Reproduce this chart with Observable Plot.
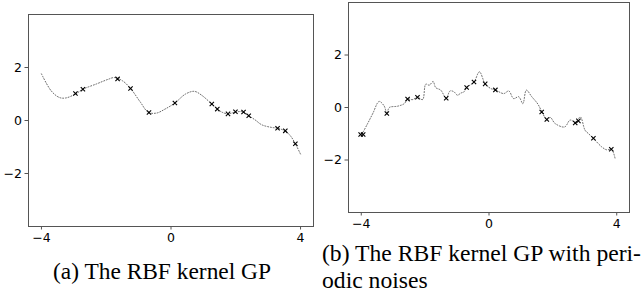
<!DOCTYPE html>
<html>
<head>
<meta charset="utf-8">
<script src="https://cdn.jsdelivr.net/npm/d3@7"></script>
<script src="https://cdn.jsdelivr.net/npm/@observablehq/plot@0.6"></script>
<style>
  html, body { margin: 0; padding: 0; background: #fff; }
  #page { position: relative; width: 643px; height: 293px; overflow: hidden; background: #fff; }
  .panel { position: absolute; top: 0; }
  .cap { position: absolute; font-family: 'Liberation Serif'; font-size: 23.5px; line-height: 28.4px; color: #000; white-space: nowrap; transform-origin: 0 0; }
</style>
</head>
<body>
<div id="page">
  <div id="left" class="panel" style="left:0px"></div>
  <div id="right" class="panel" style="left:320px"></div>
  <div class="cap" data-w="218" style="left:52.5px; top:257.2px;">(a) The RBF kernel GP</div>
  <div class="cap" data-w="319" style="left:321.7px; top:239.2px;">(b) The RBF kernel GP with peri-</div>
  <div class="cap" data-ref="1" style="left:321.7px; top:268.6px; line-height:23.5px;">odic noises</div>
</div>
<script>
// ---- tick labels ----
const xTicks = [-4, 0, 4];
const yTicks = [-2, 0, 2];

// ---- panel (a): GP mean curve ----
const aCurveX = [-4.0, -3.7, -3.45, -3.25, -2.95, -2.72, -2.3, -1.95, -1.75, -1.5, -1.25, -0.95, -0.7, -0.45, -0.2, 0.12, 0.45, 0.72, 0.95, 1.26, 1.43, 1.6, 1.76, 1.99, 2.2, 2.4, 2.6, 2.8, 3.1, 3.29, 3.53, 3.7, 3.84, 4.0];
const aCurveY = [1.76, 1.12, 0.87, 0.85, 1.00, 1.18, 1.38, 1.55, 1.62, 1.50, 1.21, 0.70, 0.31, 0.28, 0.42, 0.66, 1.00, 1.10, 0.95, 0.62, 0.43, 0.30, 0.25, 0.32, 0.33, 0.18, 0.02, -0.16, -0.26, -0.29, -0.40, -0.60, -0.88, -1.27];
// ---- panel (a): observations ----
const aObsX = [-2.95, -2.72, -1.65, -1.25, -0.68, 0.12, 1.26, 1.43, 1.76, 1.99, 2.24, 2.40, 3.29, 3.53, 3.84];
const aObsY = [1.02, 1.18, 1.57, 1.21, 0.30, 0.66, 0.62, 0.43, 0.25, 0.33, 0.32, 0.18, -0.29, -0.39, -0.88];

// ---- panel (b): GP mean curve with periodic noise ----
const bCurveX = [-3.98, -3.8, -3.64, -3.44, -3.28, -3.2, -3.12, -2.86, -2.65, -2.55, -2.39, -2.24, -2.08, -1.98, -1.87, -1.75, -1.67, -1.51, -1.34, -1.22, -1.1, -0.99, -0.88, -0.78, -0.7, -0.47, -0.3, -0.12, 0.06, 0.2, 0.46, 0.62, 0.77, 0.93, 1.06, 1.17, 1.34, 1.53, 1.66, 1.81, 1.92, 2.07, 2.37, 2.54, 2.72, 2.86, 3.01, 3.12, 3.27, 3.53, 3.68, 3.84, 3.95];
const bCurveY = [-1.02, -0.61, -0.23, 0.23, 0.05, -0.23, 0.0, 0.05, 0.15, 0.32, 0.30, 0.39, 0.30, 0.89, 0.85, 0.99, 0.76, 0.66, 0.35, 0.63, 0.60, 0.47, 0.55, 0.60, 0.76, 0.97, 1.36, 0.90, 0.72, 0.67, 0.53, 0.63, 0.34, 0.41, 0.15, 0.66, 0.41, 0.13, -0.17, -0.46, -0.38, -0.61, -0.74, -0.48, -0.56, -0.36, -0.87, -1.00, -1.18, -1.50, -1.61, -1.60, -1.95];
// ---- panel (b): observations ----
const bObsX = [-4.02, -3.94, -3.20, -2.55, -2.24, -1.34, -0.70, -0.47, -0.12, 0.20, 1.65, 1.81, 2.70, 2.80, 3.27, 3.83];
const bObsY = [-1.03, -1.03, -0.23, 0.32, 0.39, 0.35, 0.76, 0.97, 0.90, 0.67, -0.17, -0.46, -0.59, -0.51, -1.17, -1.59];

function panel(o) {
  const curve = o.cx.map((x, i) => ({x, y: o.cy[i]}));
  const obs = o.ox.map((x, i) => ({x, y: o.oy[i]}));
  return Plot.plot({
    width: o.width, height: o.height,
    marginLeft: o.ml, marginRight: o.mr, marginTop: o.mt, marginBottom: o.mb,
    style: {fontFamily: "DejaVu Sans", fontSize: "12.5px", color: "#000", background: "#fff", overflow: "visible"},
    x: {domain: [-4.4, 4.4]},
    y: {domain: [-4, 4]},
    marks: [
      Plot.line(curve, {x: "x", y: "y", curve: "catmull-rom", stroke: "#444", strokeWidth: 0.8, strokeDasharray: "1,1.8"}),
      Plot.dot(obs, {x: "x", y: "y", symbol: "times", r: 2.1, stroke: "#000", strokeWidth: 1.1}),
      Plot.frame({stroke: "#555", strokeWidth: 1}),
      Plot.axisX(xTicks, {tickSize: 3.5, tickPadding: 3, label: null, stroke: "#555", fill: "#000"}),
      Plot.axisY(yTicks, {tickSize: 3.5, tickPadding: 3, label: null, stroke: "#555", fill: "#000"})
    ]
  });
}

document.getElementById("left").appendChild(panel({
  width: 320, height: 245, ml: 28, mr: 7, mt: 14, mb: 19,
  cx: aCurveX, cy: aCurveY, ox: aObsX, oy: aObsY
}));
document.getElementById("right").appendChild(panel({
  width: 323, height: 235, ml: 28, mr: 14, mt: 2, mb: 23,
  cx: bCurveX, cy: bCurveY, ox: bObsX, oy: bObsY
}));

// fit caption lines horizontally to the reference widths
const caps = Array.from(document.querySelectorAll(".cap"));
let lastScale = 1;
caps.forEach(el => {
  if (!el.dataset.ref) {
    const w = el.getBoundingClientRect().width;
    lastScale = Math.max(0.9, Math.min(1.1, +el.dataset.w / w));
  }
  el.style.transform = `scaleX(${lastScale})`;
});
</script>
</body>
</html>
